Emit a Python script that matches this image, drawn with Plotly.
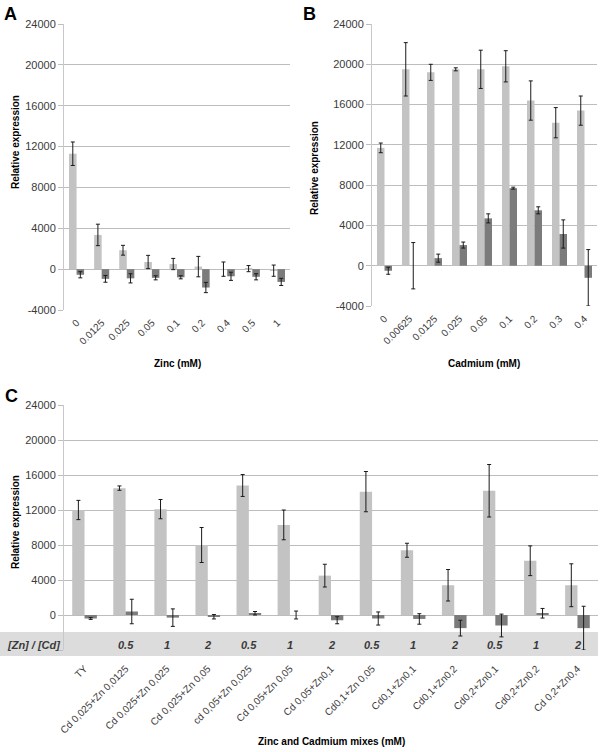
import plotly.graph_objects as go

W, H = 600, 752

# ---------------- data ----------------
zinc_cats = ["0", "0.0125", "0.025", "0.05", "0.1", "0.2", "0.4", "0.5", "1"]
zinc_light = [11300, 3350, 1850, 700, 500, 250, 0, 50, -150]
zinc_light_err = [1150, 1050, 480, 650, 550, 1000, 700, 300, 550]
zinc_dark = [-550, -950, -900, -850, -800, -1800, -700, -750, -1250]
zinc_dark_err = [300, 330, 450, 200, 150, 500, 400, 300, 350]

cad_cats = ["0", "0.00625", "0.0125", "0.025", "0.05", "0.1", "0.2", "0.3", "0.4"]
cad_light = [11700, 19500, 19200, 19500, 19500, 19800, 16400, 14200, 15400]
cad_light_err = [480, 2650, 800, 150, 1900, 1550, 1950, 1500, 1450]
cad_dark = [-500, 0, 750, 2050, 4700, 7700, 5500, 3150, -1200]
cad_dark_err = [350, 2300, 400, 300, 450, 100, 350, 1400, 2800]

mix_cats = ["TY", "Cd 0,025+Zn 0,0125", "Cd 0,025+Zn 0,025", "Cd 0,025+Zn 0,05",
            "cd 0,05+Zn 0,025", "Cd 0,05+Zn 0,05", "Cd 0,05+Zn0,1", "Cd0,1+Zn 0,05",
            "Cd0,1+Zn0,1", "Cd0,1+Zn0,2", "Cd0,2+Zn0,1", "Cd0,2+Zn0,2", "Cd 0,2+Zn0,4"]
mix_ratio = ["", "0.5", "1", "2", "0.5", "1", "2", "0.5", "1", "2", "0.5", "1", "2"]
mix_light = [12000, 14500, 12100, 8000, 14800, 10300, 4500, 14100, 7400, 3400, 14200, 6200, 3400]
mix_light_err = [1100, 250, 1100, 2000, 1250, 1700, 1300, 2300, 800, 1800, 3000, 1700, 2450]
mix_dark = [-400, 400, -300, -200, 200, 0, -600, -400, -450, -1500, -1200, 200, -1500]
mix_dark_err = [100, 1400, 1000, 250, 200, 450, 400, 750, 600, 900, 1300, 550, 2500]

y_ticks = [-4000, 0, 4000, 8000, 12000, 16000, 20000, 24000]
y_labels = ["-4000", "0", "4000", "8000", "12000", "16000", "20000", "24000"]
y_labels_c = ["", "0", "4000", "8000", "12000", "16000", "20000", "24000"]

# ---------------- style ----------------
LIGHT = "#c3c3c3"
DARK = "#7b7b7b"
GRID = "#bdbdbd"
TXT = "#3a3a3a"
FONT = "Liberation Sans"


def px(x):
    return x / W


def py(y):
    return 1 - y / H


fig = go.Figure()


def add_pair(cats, lv, le, dv, de, xa, ya):
    fig.add_trace(go.Bar(x=cats, y=lv, marker=dict(color=LIGHT, line=dict(width=0)),
                         error_y=dict(type="data", array=le, color="#1a1a1a", thickness=1, width=2),
                         xaxis=xa, yaxis=ya, showlegend=False))
    fig.add_trace(go.Bar(x=cats, y=dv, marker=dict(color=DARK, line=dict(width=0)),
                         error_y=dict(type="data", array=de, color="#1a1a1a", thickness=1, width=2),
                         xaxis=xa, yaxis=ya, showlegend=False))


add_pair(zinc_cats, zinc_light, zinc_light_err, zinc_dark, zinc_dark_err, "x", "y")
add_pair(cad_cats, cad_light, cad_light_err, cad_dark, cad_dark_err, "x2", "y2")
add_pair(mix_cats, mix_light, mix_light_err, mix_dark, mix_dark_err, "x3", "y3")

yax_common = dict(range=[-4000, 24000], tickvals=y_ticks, showgrid=True, gridcolor=GRID,
                  gridwidth=1, zeroline=False, showline=True, linecolor="#c8c8c8", linewidth=1,
                  ticks="outside", ticklen=5, tickcolor=GRID, automargin=False,
                  tickfont=dict(family=FONT, size=11, color=TXT), fixedrange=True)
xax_common = dict(type="category", showgrid=False, zeroline=False, showline=False, ticks="",
                  tickangle=-45, automargin=False,
                  tickfont=dict(family=FONT, size=10, color=TXT), fixedrange=True)

fig.update_layout(
    template="none",
    width=W, height=H, margin=dict(l=0, r=0, t=0, b=0, pad=0),
    paper_bgcolor="white", plot_bgcolor="rgba(0,0,0,0)",
    barmode="group", bargap=0.4, bargroupgap=0.0,
    xaxis=dict(domain=[px(64), px(290)], anchor="y", ticklabelstandoff=4, **xax_common),
    yaxis=dict(domain=[py(310), py(24)], anchor="x", ticktext=y_labels, **yax_common),
    xaxis2=dict(domain=[px(372), px(597)], anchor="y2", ticklabelstandoff=4, **xax_common),
    yaxis2=dict(domain=[py(306), py(24)], anchor="x2", ticktext=y_labels, **yax_common),
    xaxis3=dict(domain=[px(64), px(598)], anchor="y3", ticklabelstandoff=10, **xax_common),
    yaxis3=dict(domain=[py(650), py(405)], anchor="x3", ticktext=y_labels_c, **yax_common),
)

# grey ratio band
fig.add_shape(type="rect", xref="paper", yref="paper", x0=0, x1=px(598),
              y0=py(656), y1=py(632), fillcolor="#dcdcdc", line=dict(width=0), layer="below")

ann = []
# panel letters
for letter, x, y in [("A", 2, 2), ("B", 301, 2), ("C", 3, 384)]:
    ann.append(dict(text=letter, x=px(x), y=py(y), xref="paper", yref="paper",
                    xanchor="left", yanchor="top", showarrow=False,
                    font=dict(family=FONT, size=18, color="black", weight="bold")))
# y titles
for x, y in [(15, 142), (315, 168), (15, 522)]:
    ann.append(dict(text="<b>Relative expression</b>", x=px(x), y=py(y), xref="paper", yref="paper",
                    textangle=-90, showarrow=False, xanchor="center", yanchor="middle",
                    font=dict(family=FONT, size=10, color="black")))
# x titles
for text, x, y in [("Zinc (mM)", 177, 363), ("Cadmium (mM)", 484, 363),
                   ("Zinc and Cadmium mixes (mM)", 331, 741)]:
    ann.append(dict(text="<b>" + text + "</b>", x=px(x), y=py(y), xref="paper", yref="paper",
                    showarrow=False, xanchor="center", yanchor="middle",
                    font=dict(family=FONT, size=10, color="black")))
# ratio label
ann.append(dict(text="<b><i>[Zn] / [Cd]</i></b>", x=px(62), y=py(645), xref="paper", yref="paper",
                showarrow=False, xanchor="right", yanchor="middle",
                font=dict(family=FONT, size=11, color=TXT)))
for c, r in zip(mix_cats, mix_ratio):
    if r:
        ann.append(dict(text="<b><i>" + r + "</i></b>", x=c, y=py(645), xref="x3", yref="paper",
                        showarrow=False, xanchor="center", yanchor="middle",
                        font=dict(family=FONT, size=11, color=TXT)))
fig.update_layout(annotations=ann)

fig.write_html("out.html", config={"displayModeBar": False},
               post_script="document.body.style.margin='0';")
